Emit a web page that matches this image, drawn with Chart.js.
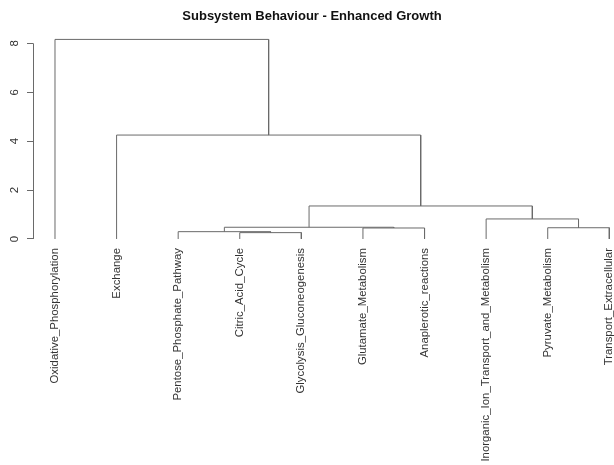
<!DOCTYPE html>
<html>
<head>
<meta charset="utf-8">
<script src="https://cdn.jsdelivr.net/npm/chart.js@4.4.1/dist/chart.umd.min.js"></script>
<style>
  html, body { margin: 0; padding: 0; background: #fff; }
  canvas { display: block; }
</style>
</head>
<body>
<canvas id="c" width="614" height="465"></canvas>
<script>
// ---- data ----
const leaves = [
  'Oxidative_Phosphorylation',
  'Exchange',
  'Pentose_Phosphate_Pathway',
  'Citric_Acid_Cycle',
  'Glycolysis_Gluconeogenesis',
  'Glutamate_Metabolism',
  'Anaplerotic_reactions',
  'Inorganic_Ion_Transport_and_Metabolism',
  'Pyruvate_Metabolism',
  'Transport_Extracellular'
];
// hclust-style merge table: negative = leaf (1-based), positive = earlier merge step
const mergeLeft  = [-4, -3, -9, -6, 2, -8, 5, -2, -1];
const mergeRight = [-5,  1, -10, -7, 4,  3, 6,  7,  8];
const mergeHeight = [0.26, 0.30, 0.46, 0.45, 0.48, 0.82, 1.35, 4.25, 8.16];
const yTicks = [0, 2, 4, 6, 8];
const titleText = 'Subsystem Behaviour - Enhanced Growth';

// ---- build dendrogram segments from the merge table ----
const lineColor = '#6a6a6a';
const family = "'Liberation Sans', Arial, Helvetica, sans-serif";
const nodeX = [], nodeH = [];
function childPos(c) {
  if (c < 0) return { x: -c, h: 0 };
  return { x: nodeX[c - 1], h: nodeH[c - 1] };
}
const datasets = [];
for (let i = 0; i < mergeHeight.length; i++) {
  const a = childPos(mergeLeft[i]);
  const b = childPos(mergeRight[i]);
  const h = mergeHeight[i];
  nodeX.push((a.x + b.x) / 2);
  nodeH.push(h);
  datasets.push({
    data: [ {x: a.x, y: a.h}, {x: a.x, y: h}, {x: b.x, y: h}, {x: b.x, y: b.h} ],
    showLine: true,
    borderColor: lineColor,
    borderWidth: 1,
    pointRadius: 0,
    tension: 0,
    clip: false
  });
}

// R-style y axis: line from first to last tick, rotated labels
const rAxis = {
  id: 'rAxis',
  afterDraw(chart) {
    const { ctx } = chart;
    const y = chart.scales.y;
    const x0 = Math.floor(chart.chartArea.left) + 0.5;
    ctx.save();
    ctx.strokeStyle = lineColor;
    ctx.lineWidth = 1;
    ctx.beginPath();
    ctx.moveTo(x0, y.getPixelForValue(yTicks[0]));
    ctx.lineTo(x0, y.getPixelForValue(yTicks[yTicks.length - 1]));
    ctx.stroke();
    ctx.fillStyle = '#333';
    ctx.font = '11.4px ' + family;
    ctx.textAlign = 'center';
    ctx.textBaseline = 'middle';
    yTicks.forEach(v => {
      ctx.save();
      ctx.translate(15, y.getPixelForValue(v));
      ctx.rotate(-Math.PI / 2);
      ctx.fillText(String(v), 0, 0);
      ctx.restore();
    });
    ctx.restore();
  }
};

new Chart(document.getElementById('c'), {
  type: 'scatter',
  data: { datasets },
  plugins: [rAxis],
  options: {
    responsive: false,
    devicePixelRatio: 1,
    animation: false,
    layout: { padding: { left: 10, right: 0, top: 0, bottom: 0 } },
    plugins: {
      legend: { display: false },
      tooltip: { enabled: false },
      title: {
        display: true,
        text: titleText,
        color: '#111',
        font: { family, size: 13, weight: 'bold' },
        padding: { top: 8.2, bottom: 6.2 }
      }
    },
    scales: {
      x: {
        type: 'linear',
        min: 0.643,
        max: 10.076,
        afterFit: s => { s.height = 224; s.paddingLeft = 0; s.paddingRight = 0; },
        afterBuildTicks: s => { s.ticks = leaves.map((_, i) => ({ value: i + 1 })); },
        border: { display: false },
        grid: { display: false, drawTicks: false },
        ticks: {
          autoSkip: false,
          minRotation: 90,
          maxRotation: 90,
          padding: 7,
          color: '#333',
          font: { family, size: 11.4 },
          callback: (v, i) => leaves[i]
        }
      },
      y: {
        min: -0.0818,
        max: 8.545,
        afterFit: s => { s.width = 23; s.paddingTop = 0; s.paddingBottom = 0; },
        afterBuildTicks: s => { s.ticks = yTicks.map(v => ({ value: v })); },
        border: { display: false },
        grid: { display: true, drawOnChartArea: false, drawTicks: true, tickLength: 6, color: lineColor, lineWidth: 1 },
        ticks: { display: false }
      }
    }
  }
});
</script>
</body>
</html>
